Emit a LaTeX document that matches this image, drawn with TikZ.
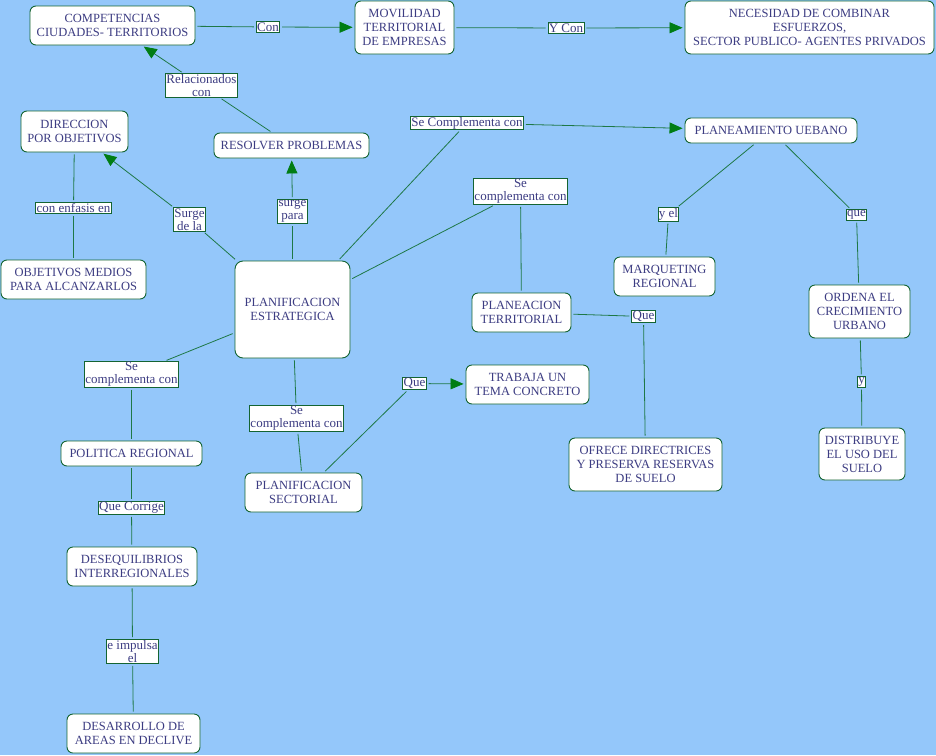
\documentclass[tikz,border=0pt]{standalone}
\usepackage{fontspec}
\setmainfont{Liberation Serif}
\usetikzlibrary{arrows.meta}
\definecolor{bgblue}{RGB}{148,199,250}
\definecolor{boxgreen}{RGB}{20,100,50}
\definecolor{linegreen}{RGB}{30,120,70}
\definecolor{tipgreen}{RGB}{0,125,20}
\definecolor{txtblue}{RGB}{60,60,130}
\tikzset{
  concept/.style={draw=boxgreen, fill=white, rounded corners=6pt, line width=0.9pt,
    align=center, text=txtblue, font=\fontsize{12.5}{14}\selectfont, inner sep=2pt},
  linkbox/.style={draw=boxgreen, fill=white, line width=0.8pt, align=center,
    text=txtblue, font=\fontsize{13}{13}\selectfont, inner sep=0.8pt},
  conn/.style={draw=linegreen, line width=0.8pt, shorten <=2pt, shorten >=2pt},
}
\begin{document}
\begin{tikzpicture}[x=1pt, y=-1pt, >={Triangle[length=13pt,width=11pt,color=tipgreen]}]
  \fill[bgblue] (0,0) rectangle (936,755);
  \useasboundingbox (0,0) rectangle (936,755);
  % concepts
  \node[concept, minimum width=165pt, minimum height=39pt] (comp) at (112.5,25.5) {COMPETENCIAS\\CIUDADES- TERRITORIOS};
  \node[concept, minimum width=99pt, minimum height=53pt] (movil) at (404.5,27.5) {MOVILIDAD\\TERRITORIAL\\DE EMPRESAS};
  \node[concept, minimum width=249pt, minimum height=53pt] (neces) at (809.5,27.5) {NECESIDAD DE COMBINAR\\ESFUERZOS,\\SECTOR PUBLICO- AGENTES PRIVADOS};
  \node[concept, minimum width=107pt, minimum height=41pt] (direc) at (74.5,131.5) {DIRECCION\\POR OBJETIVOS};
  \node[concept, minimum width=155pt, minimum height=25pt] (resol) at (291.5,145.5) {RESOLVER PROBLEMAS};
  \node[concept, minimum width=172pt, minimum height=25pt] (planu) at (771,130.5) {PLANEAMIENTO UEBANO};
  \node[concept, minimum width=145pt, minimum height=39pt] (objet) at (73.5,279.5) {OBJETIVOS MEDIOS\\PARA ALCANZARLOS};
  \node[concept, minimum width=115pt, minimum height=97pt, rounded corners=8pt] (estrat) at (292.5,309.5) {PLANIFICACION\\ESTRATEGICA};
  \node[concept, minimum width=101pt, minimum height=39pt] (marq) at (664.5,276.5) {MARQUETING\\REGIONAL};
  \node[concept, minimum width=99pt, minimum height=39pt] (plant) at (521.5,312.5) {PLANEACION\\TERRITORIAL};
  \node[concept, minimum width=101pt, minimum height=53pt] (orden) at (859.5,311.5) {ORDENA EL\\CRECIMIENTO\\URBANO};
  \node[concept, minimum width=123pt, minimum height=39pt] (trab) at (527.5,384.5) {TRABAJA UN\\TEMA CONCRETO};
  \node[concept, minimum width=141pt, minimum height=25pt] (polit) at (131.5,453.5) {POLITICA REGIONAL};
  \node[concept, minimum width=153pt, minimum height=53pt] (ofrec) at (645.5,464.5) {OFRECE DIRECTRICES\\Y PRESERVA RESERVAS\\DE SUELO};
  \node[concept, minimum width=86pt, minimum height=52pt] (distr) at (862,454) {DISTRIBUYE\\EL USO DEL\\SUELO};
  \node[concept, minimum width=117pt, minimum height=39pt] (sect) at (303.5,492.5) {PLANIFICACION\\SECTORIAL};
  \node[concept, minimum width=130pt, minimum height=39pt] (deseq) at (132,566.5) {DESEQUILIBRIOS\\INTERREGIONALES};
  \node[concept, minimum width=133pt, minimum height=39pt] (desar) at (133.5,733.5) {DESARROLLO DE\\AREAS EN DECLIVE};
  % linking phrases
  \node[linkbox] (lcon) at (268,27) {Con};
  \node[linkbox] (lycon) at (566,28) {Y Con};
  \node[linkbox] (lrel) at (201.5,85.5) {Relacionados\\con};
  \node[linkbox] (lcompu) at (467,123) {Se Complementa con};
  \node[linkbox] (lcomt) at (520.5,191.5) {Se\\complementa con};
  \node[linkbox] (lenf) at (73.5,208) {con enfasis en};
  \node[linkbox] (lsurge) at (189.5,219.5) {Surge\\de la};
  \node[linkbox] (lpara) at (292.5,211.5) {surge\\para};
  \node[linkbox] (lyel) at (668.5,214.5) {y el};
  \node[linkbox] (lque) at (856.5,215) {que};
  \node[linkbox] (lquet) at (643.5,316.5) {Que};
  \node[linkbox] (lcompl) at (131.5,374.5) {Se\\complementa con};
  \node[linkbox] (lques) at (414.5,383.5) {Que};
  \node[linkbox] (lcoms) at (296.5,418.5) {Se\\complementa con};
  \node[linkbox] (ly) at (861.5,382) {y};
  \node[linkbox] (lcorr) at (131.5,508) {Que Corrige};
  \node[linkbox] (limp) at (132.5,651.5) {e impulsa\\el};
  % connectors
  \draw[conn] (comp) -- (lcon);
  \draw[conn, ->] (lcon) -- (movil);
  \draw[conn] (movil) -- (lycon);
  \draw[conn, ->] (lycon) -- (neces);
  \draw[conn] (resol) -- (lrel);
  \draw[conn, ->] (lrel) -- (comp);
  \draw[conn] (estrat) -- (lsurge);
  \draw[conn, ->] (lsurge) -- (direc);
  \draw[conn] (estrat) -- (lpara);
  \draw[conn, ->] (lpara) -- (resol);
  \draw[conn] (direc) -- (lenf);
  \draw[conn] (lenf) -- (objet);
  \draw[conn] (estrat) -- (lcompu);
  \draw[conn, ->] (lcompu) -- (planu);
  \draw[conn] (estrat) -- (lcomt);
  \draw[conn] (lcomt) -- (plant);
  \draw[conn] (planu) -- (lyel);
  \draw[conn] (lyel) -- (marq);
  \draw[conn] (planu) -- (lque);
  \draw[conn] (lque) -- (orden);
  \draw[conn] (plant) -- (lquet);
  \draw[conn] (lquet) -- (ofrec);
  \draw[conn] (orden) -- (ly);
  \draw[conn] (ly) -- (distr);
  \draw[conn] (estrat) -- (lcompl);
  \draw[conn] (lcompl) -- (polit);
  \draw[conn] (estrat) -- (lcoms);
  \draw[conn] (lcoms) -- (sect);
  \draw[conn] (sect) -- (lques);
  \draw[conn, ->] (lques) -- (trab);
  \draw[conn] (polit) -- (lcorr);
  \draw[conn] (lcorr) -- (deseq);
  \draw[conn] (deseq) -- (limp);
  \draw[conn] (limp) -- (desar);
\end{tikzpicture}
\end{document}
